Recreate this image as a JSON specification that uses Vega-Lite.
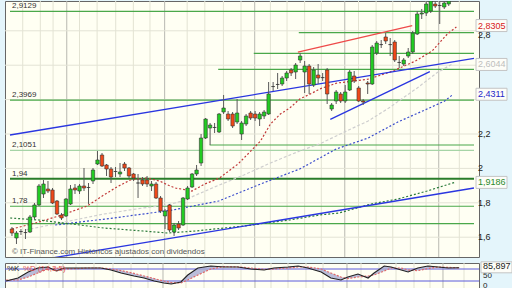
{
  "$schema": "https://vega.github.io/schema/vega-lite/v6.json",
  "background": "#e4f5fb",
  "padding": {"left": 3, "top": 0, "right": 1, "bottom": 0},
  "spacing": 2,
  "config": {
    "view": {"fill": "#fffff3", "stroke": "#666", "strokeWidth": 1},
    "font": "Liberation Sans"
  },
  "resolve": {"scale": {"color": "independent"}},
  "datasets": {
    "candles": [
      {"i":0,"o":1.6477,"h":1.6593,"l":1.607,"c":1.6244},
      {"i":1,"o":1.5954,"h":1.636,"l":1.5605,"c":1.6244},
      {"i":2,"o":1.633,"h":1.6477,"l":1.6128,"c":1.633},
      {"i":3,"o":1.627,"h":1.6477,"l":1.5895,"c":1.627},
      {"i":4,"o":1.6302,"h":1.7291,"l":1.6244,"c":1.7175},
      {"i":5,"o":1.7175,"h":1.7989,"l":1.7058,"c":1.7873},
      {"i":6,"o":1.7873,"h":1.9093,"l":1.7814,"c":1.8977},
      {"i":7,"o":1.8512,"h":1.9326,"l":1.828,"c":1.9093},
      {"i":8,"o":1.8803,"h":1.9268,"l":1.857,"c":1.8686},
      {"i":9,"o":1.8745,"h":1.8861,"l":1.7931,"c":1.7989},
      {"i":10,"o":1.8105,"h":1.8163,"l":1.7291,"c":1.7349},
      {"i":11,"o":1.7291,"h":1.7407,"l":1.7,"c":1.7117},
      {"i":12,"o":1.7233,"h":1.828,"l":1.7175,"c":1.8221},
      {"i":13,"o":1.7931,"h":1.9035,"l":1.7873,"c":1.8803},
      {"i":14,"o":1.8861,"h":1.9093,"l":1.8512,"c":1.8745},
      {"i":15,"o":1.8686,"h":1.9093,"l":1.8512,"c":1.8977},
      {"i":16,"o":1.8977,"h":2.0023,"l":1.8686,"c":1.8861},
      {"i":17,"o":1.889,"h":1.9151,"l":1.7931,"c":1.889},
      {"i":18,"o":1.9268,"h":2.0023,"l":1.9093,"c":1.9907},
      {"i":19,"o":2.0256,"h":2.1012,"l":2.0198,"c":2.0488},
      {"i":20,"o":2.0779,"h":2.0895,"l":2.0081,"c":2.014},
      {"i":21,"o":2.0198,"h":2.0256,"l":1.9558,"c":1.9965},
      {"i":22,"o":1.9965,"h":2.0081,"l":1.9151,"c":1.95},
      {"i":23,"o":1.982,"h":2.0081,"l":1.95,"c":1.982},
      {"i":24,"o":1.9675,"h":2.0314,"l":1.95,"c":1.9791},
      {"i":25,"o":2.0256,"h":2.0372,"l":1.9849,"c":2.0023},
      {"i":26,"o":2.0023,"h":2.0081,"l":1.9442,"c":1.9558},
      {"i":27,"o":1.9675,"h":1.9733,"l":1.9268,"c":1.9442},
      {"i":28,"o":1.9151,"h":1.9675,"l":1.828,"c":1.9151},
      {"i":29,"o":1.9326,"h":1.95,"l":1.8977,"c":1.9093},
      {"i":30,"o":1.9326,"h":1.9558,"l":1.8919,"c":1.9093},
      {"i":31,"o":1.8977,"h":1.9268,"l":1.8686,"c":1.9093},
      {"i":32,"o":1.9093,"h":1.9209,"l":1.8221,"c":1.828},
      {"i":33,"o":1.828,"h":1.8396,"l":1.7407,"c":1.7524},
      {"i":34,"o":1.7233,"h":1.764,"l":1.6477,"c":1.7524},
      {"i":35,"o":1.7873,"h":1.7931,"l":1.6302,"c":1.6418},
      {"i":36,"o":1.6302,"h":1.6826,"l":1.607,"c":1.6709},
      {"i":37,"o":1.6767,"h":1.6942,"l":1.6418,"c":1.6535},
      {"i":38,"o":1.6709,"h":1.8338,"l":1.6651,"c":1.828},
      {"i":39,"o":1.8221,"h":1.8977,"l":1.8163,"c":1.8861},
      {"i":40,"o":1.8919,"h":1.9733,"l":1.8861,"c":1.9675},
      {"i":41,"o":1.9675,"h":2.0198,"l":1.9558,"c":1.9907},
      {"i":42,"o":2.0314,"h":2.2,"l":2.014,"c":2.1767},
      {"i":43,"o":2.1767,"h":2.293,"l":2.1709,"c":2.2872},
      {"i":44,"o":2.2349,"h":2.264,"l":2.1361,"c":2.2523},
      {"i":45,"o":2.238,"h":2.264,"l":2.2058,"c":2.238},
      {"i":46,"o":2.2116,"h":2.3221,"l":2.2058,"c":2.3163},
      {"i":47,"o":2.3279,"h":2.4268,"l":2.3163,"c":2.3511},
      {"i":48,"o":2.3163,"h":2.3337,"l":2.2756,"c":2.2872},
      {"i":49,"o":2.3163,"h":2.3279,"l":2.2349,"c":2.2465},
      {"i":50,"o":2.2698,"h":2.4035,"l":2.2581,"c":2.3221},
      {"i":51,"o":2.2,"h":2.2756,"l":2.1651,"c":2.264},
      {"i":52,"o":2.2581,"h":2.3163,"l":2.2465,"c":2.3047},
      {"i":53,"o":2.3221,"h":2.3337,"l":2.2814,"c":2.293},
      {"i":54,"o":2.3163,"h":2.3337,"l":2.2756,"c":2.293},
      {"i":55,"o":2.2872,"h":2.3279,"l":2.2465,"c":2.3163},
      {"i":56,"o":2.3047,"h":2.3395,"l":2.2872,"c":2.3279},
      {"i":57,"o":2.3163,"h":2.5023,"l":2.3105,"c":2.4326},
      {"i":58,"o":2.476,"h":2.5023,"l":2.45,"c":2.476},
      {"i":59,"o":2.488,"h":2.5547,"l":2.4616,"c":2.488},
      {"i":60,"o":2.4907,"h":2.5372,"l":2.4791,"c":2.5256},
      {"i":61,"o":2.5256,"h":2.5663,"l":2.5081,"c":2.5547},
      {"i":62,"o":2.5721,"h":2.5837,"l":2.5372,"c":2.5547},
      {"i":63,"o":2.5605,"h":2.6128,"l":2.5198,"c":2.6012},
      {"i":64,"o":2.6302,"h":2.6709,"l":2.6128,"c":2.6535},
      {"i":65,"o":2.5605,"h":2.6244,"l":2.4384,"c":2.5953},
      {"i":66,"o":2.5953,"h":2.607,"l":2.4326,"c":2.4907},
      {"i":67,"o":2.4849,"h":2.5895,"l":2.4733,"c":2.5721},
      {"i":68,"o":2.543,"h":2.607,"l":2.4907,"c":2.5256},
      {"i":69,"o":2.528,"h":2.5547,"l":2.5081,"c":2.528},
      {"i":70,"o":2.5721,"h":2.5837,"l":2.3744,"c":2.4326},
      {"i":71,"o":2.3453,"h":2.3802,"l":2.3337,"c":2.3686},
      {"i":72,"o":2.3919,"h":2.4558,"l":2.3744,"c":2.4442},
      {"i":73,"o":2.4326,"h":2.4442,"l":2.3802,"c":2.3919},
      {"i":74,"o":2.3919,"h":2.4849,"l":2.3802,"c":2.4442},
      {"i":75,"o":2.4558,"h":2.5721,"l":2.45,"c":2.5605},
      {"i":76,"o":2.5372,"h":2.5663,"l":2.4965,"c":2.5081},
      {"i":77,"o":2.4675,"h":2.4791,"l":2.386,"c":2.3919},
      {"i":78,"o":2.3919,"h":2.4035,"l":2.3686,"c":2.386},
      {"i":79,"o":2.4965,"h":2.5081,"l":2.4326,"c":2.4907},
      {"i":80,"o":2.4907,"h":2.7175,"l":2.4849,"c":2.7058},
      {"i":81,"o":2.6709,"h":2.7407,"l":2.6593,"c":2.7291},
      {"i":82,"o":2.72,"h":2.7465,"l":2.7,"c":2.72},
      {"i":83,"o":2.764,"h":2.7872,"l":2.7233,"c":2.7407},
      {"i":84,"o":2.72,"h":2.7581,"l":2.6535,"c":2.72},
      {"i":85,"o":2.7349,"h":2.7465,"l":2.6186,"c":2.6302},
      {"i":86,"o":2.616,"h":2.6535,"l":2.5837,"c":2.616},
      {"i":87,"o":2.607,"h":2.6419,"l":2.5953,"c":2.6302},
      {"i":88,"o":2.6535,"h":2.7,"l":2.6419,"c":2.6767},
      {"i":89,"o":2.6767,"h":2.7988,"l":2.6651,"c":2.7872},
      {"i":90,"o":2.7814,"h":2.9151,"l":2.7756,"c":2.8977},
      {"i":91,"o":2.8977,"h":2.9268,"l":2.8686,"c":2.9035},
      {"i":92,"o":2.9035,"h":2.9733,"l":2.8861,"c":2.9558},
      {"i":93,"o":2.9151,"h":2.99,"l":2.9035,"c":2.9733},
      {"i":94,"o":2.9558,"h":2.9733,"l":2.9326,"c":2.9442},
      {"i":95,"o":2.947,"h":2.9733,"l":2.8395,"c":2.947},
      {"i":96,"o":2.9384,"h":2.9733,"l":2.9268,"c":2.9616},
      {"i":97,"o":2.9558,"h":2.985,"l":2.9442,"c":2.9733}
    ],
    "hlines": [
      {"p":2.9129,"i":-0.435,"i2":102.61,"g":"a","lab":"2,9129"},
      {"p":2.789,"i":63.7,"i2":102.61,"g":"a","lab":""},
      {"p":2.6692,"i":53.7,"i2":102.61,"g":"a","lab":""},
      {"p":2.5762,"i":45.8,"i2":102.61,"g":"a","lab":""},
      {"p":2.3969,"i":-0.435,"i2":102.61,"g":"a","lab":"2,3969"},
      {"p":2.1361,"i":43.9,"i2":102.61,"g":"a","lab":""},
      {"p":2.1051,"i":-0.435,"i2":102.61,"g":"b","lab":"2,1051"},
      {"p":1.94,"i":-0.435,"i2":102.61,"g":"c","lab":"1,94"},
      {"p":1.78,"i":-0.435,"i2":102.61,"g":"a","lab":"1,78"},
      {"p":1.6785,"i":-0.435,"i2":102.61,"g":"a","lab":""}
    ],
    "hgrid": [{"p":1.6},{"p":1.8},{"p":2.0},{"p":2.2},{"p":2.4},{"p":2.6},{"p":2.8}],
    "rlab": [{"p":1.6,"t":"1,6"},{"p":1.8,"t":"1,8"},{"p":2.0,"t":"2"},{"p":2.2,"t":"2,2"}],
    "tags": [
      {"p":2.8305,"t":"2,8305","s":"r"},
      {"p":2.6044,"t":"2,6044","s":"k"},
      {"p":2.4311,"t":"2,4311","s":"b"},
      {"p":1.9186,"t":"1,9186","s":"g"}
    ],
    "tlines": [
      {"i":63.5,"p":2.6767,"i2":88.9,"p2":2.8305,"s":"r"},
      {"i":-0.435,"p":2.1942,"i2":102.61,"p2":2.6401,"s":"b"},
      {"i":70.7,"p":2.2855,"i2":92.8,"p2":2.5622,"s":"b"},
      {"i":1,"p":1.445,"i2":102.61,"p2":1.8861,"s":"b"}
    ],
    "ma": [
      {"s":"r","i":0,"p":1.6477},{"s":"r","i":5.2,"p":1.6826},{"s":"r","i":11.1,"p":1.7291},{"s":"r","i":16.7,"p":1.7814},
      {"s":"r","i":20.4,"p":1.8453},{"s":"r","i":23.3,"p":1.8919},{"s":"r","i":26.3,"p":1.9326},{"s":"r","i":29.8,"p":1.9442},
      {"s":"r","i":32.8,"p":1.9268},{"s":"r","i":34.6,"p":1.9035},{"s":"r","i":36.3,"p":1.8861},{"s":"r","i":40.0,"p":1.8686},
      {"s":"r","i":42.8,"p":1.9093},{"s":"r","i":46.1,"p":1.9442},{"s":"r","i":50.2,"p":2.0256},{"s":"r","i":52.4,"p":2.0837},
      {"s":"r","i":55.2,"p":2.1593},{"s":"r","i":57.4,"p":2.2581},{"s":"r","i":59.6,"p":2.3163},{"s":"r","i":61.7,"p":2.3511},
      {"s":"r","i":63.9,"p":2.4035},{"s":"r","i":66.7,"p":2.4384},{"s":"r","i":68.3,"p":2.4616},{"s":"r","i":72.2,"p":2.4965},
      {"s":"r","i":75.9,"p":2.5081},{"s":"r","i":79.3,"p":2.5198},{"s":"r","i":84.6,"p":2.5663},{"s":"r","i":89.6,"p":2.6244},
      {"s":"r","i":93.3,"p":2.6826},{"s":"r","i":96.7,"p":2.7814},{"s":"r","i":98.7,"p":2.8221},
      {"s":"k","i":3.0,"p":1.6418},{"s":"k","i":11.7,"p":1.6884},{"s":"k","i":20.4,"p":1.7349},{"s":"k","i":29.1,"p":1.7698},
      {"s":"k","i":34.6,"p":1.7873},{"s":"k","i":37.8,"p":1.8105},{"s":"k","i":45.0,"p":1.8919},{"s":"k","i":51.5,"p":1.9616},
      {"s":"k","i":57.4,"p":2.0314},{"s":"k","i":63.9,"p":2.1012},{"s":"k","i":68.3,"p":2.1419},{"s":"k","i":74.3,"p":2.2175},
      {"s":"k","i":79.1,"p":2.2756},{"s":"k","i":83.7,"p":2.3511},{"s":"k","i":90.0,"p":2.4675},{"s":"k","i":94.3,"p":2.5547},
      {"s":"k","i":97.6,"p":2.6044},
      {"s":"b","i":9.6,"p":1.6709},{"s":"b","i":22.6,"p":1.7117},{"s":"b","i":35.7,"p":1.7581},{"s":"b","i":45.9,"p":1.8105},
      {"s":"b","i":55.2,"p":1.9093},{"s":"b","i":63.9,"p":1.9965},{"s":"b","i":72.0,"p":2.1128},{"s":"b","i":79.1,"p":2.1767},
      {"s":"b","i":85.7,"p":2.2698},{"s":"b","i":92.2,"p":2.3453},{"s":"b","i":96.1,"p":2.3919},{"s":"b","i":98.0,"p":2.4311},
      {"s":"g","i":-0.4,"p":1.7117},{"s":"g","i":5.9,"p":1.7},{"s":"g","i":13.3,"p":1.6767},{"s":"g","i":20.4,"p":1.6535},
      {"s":"g","i":29.1,"p":1.636},{"s":"g","i":34.6,"p":1.6244},{"s":"g","i":40.7,"p":1.636},{"s":"g","i":51.5,"p":1.6651},
      {"s":"g","i":61.7,"p":1.7},{"s":"g","i":68.3,"p":1.7291},{"s":"g","i":72.6,"p":1.7407},{"s":"g","i":79.8,"p":1.7931},
      {"s":"g","i":85.7,"p":1.8221},{"s":"g","i":92.2,"p":1.8686},{"s":"g","i":98.3,"p":1.9186}
    ],
    "vgrid": [
      {"i":2.39,"k":"n"},{"i":6.3,"k":"n"},{"i":9.13,"k":"n"},{"i":12.17,"k":"M"},{"i":15.0,"k":"n"},
      {"i":18.91,"k":"n"},{"i":23.04,"k":"n"},{"i":26.96,"k":"n"},{"i":30.65,"k":"n"},{"i":33.91,"k":"M"},
      {"i":38.91,"k":"n"},{"i":42.83,"k":"n"},{"i":46.96,"k":"n"},{"i":50.87,"k":"n"},{"i":53.91,"k":"M"},
      {"i":57.39,"k":"n"},{"i":61.09,"k":"n"},{"i":65.0,"k":"n"},{"i":68.7,"k":"n"},{"i":73.91,"k":"M"},
      {"i":76.96,"k":"n"},{"i":80.87,"k":"n"},{"i":84.57,"k":"n"},{"i":88.48,"k":"n"},{"i":91.96,"k":"n"},
      {"i":94.78,"k":"M"},{"i":99.35,"k":"n"}
    ],
    "osc": [
      {"i":-0.2,"k":20,"d":25},{"i":2.4,"k":35,"d":25},{"i":4.6,"k":65,"d":40},{"i":6.7,"k":85,"d":60},
      {"i":8.9,"k":90,"d":80},{"i":10.7,"k":70,"d":85},{"i":12.4,"k":85,"d":80},{"i":15.4,"k":85,"d":82},
      {"i":17.6,"k":85,"d":85},{"i":20.4,"k":85,"d":85},{"i":22.6,"k":75,"d":80},{"i":24.8,"k":60,"d":72},
      {"i":27.6,"k":45,"d":58},{"i":29.8,"k":35,"d":45},{"i":32.0,"k":20,"d":32},{"i":34.1,"k":10,"d":20},
      {"i":35.7,"k":5,"d":12},{"i":37.8,"k":15,"d":10},{"i":39.3,"k":50,"d":25},{"i":41.5,"k":85,"d":50},
      {"i":44.3,"k":95,"d":80},{"i":47.2,"k":90,"d":92},{"i":50.2,"k":90,"d":90},{"i":53.0,"k":80,"d":85},
      {"i":55.9,"k":75,"d":78},{"i":58.0,"k":85,"d":80},{"i":61.1,"k":90,"d":85},{"i":63.3,"k":95,"d":90},
      {"i":65.4,"k":85,"d":90},{"i":68.3,"k":65,"d":80},{"i":70.4,"k":35,"d":60},{"i":72.6,"k":25,"d":40},
      {"i":74.1,"k":40,"d":32},{"i":76.3,"k":55,"d":40},{"i":78.5,"k":35,"d":45},{"i":79.8,"k":60,"d":50},
      {"i":82.0,"k":95,"d":70},{"i":83.5,"k":90,"d":85},{"i":85.7,"k":75,"d":85},{"i":87.2,"k":65,"d":75},
      {"i":89.3,"k":85,"d":72},{"i":91.5,"k":95,"d":82},{"i":93.7,"k":90,"d":90},{"i":95.9,"k":85,"d":88},
      {"i":98.3,"k":85.897,"d":86}
    ]
  },
  "vconcat": [
    {
      "width": 474,
      "height": 256,
      "resolve": {"scale": {"color": "independent", "strokeDash": "independent"}},
      "layer": [
        {
          "data": {"name": "vgrid"},
          "mark": {"type": "rule", "strokeWidth": 1},
          "encoding": {
            "x": {"field": "i", "type": "quantitative", "scale": {"domain": [-0.435, 102.61], "nice": false, "zero": false}, "axis": null},
            "color": {"field": "k", "type": "nominal", "scale": {"domain": ["n", "M"], "range": ["#e3e3d3", "#b9b9b1"]}, "legend": null}
          }
        },
        {
          "data": {"name": "hgrid"},
          "mark": {"type": "rule", "strokeWidth": 1, "color": "#e3e3d5"},
          "encoding": {
            "y": {"field": "p", "type": "quantitative", "scale": {"domain": [1.4849, 2.9733], "nice": false, "zero": false}, "axis": null}
          }
        },
        {
          "data": {"name": "hlines"},
          "mark": {"type": "rule", "clip": true},
          "encoding": {
            "x": {"field": "i", "type": "quantitative", "scale": {"domain": [-0.435, 102.61], "nice": false, "zero": false}, "axis": null},
            "x2": {"field": "i2"},
            "y": {"field": "p", "type": "quantitative", "scale": {"domain": [1.4849, 2.9733], "nice": false, "zero": false}, "axis": null},
            "color": {"field": "g", "type": "nominal", "scale": {"domain": ["a", "b", "c"], "range": ["#4aa84a", "#a6d4a6", "#2a7d2a"]}, "legend": null},
            "strokeWidth": {"condition": {"test": "datum.g == 'c'", "value": 2}, "value": 1.2}
          }
        },
        {
          "data": {"name": "ma"},
          "mark": {"type": "line", "strokeWidth": 1.2, "clip": true},
          "encoding": {
            "x": {"field": "i", "type": "quantitative", "scale": {"domain": [-0.435, 102.61], "nice": false, "zero": false}, "axis": null},
            "y": {"field": "p", "type": "quantitative", "scale": {"domain": [1.4849, 2.9733], "nice": false, "zero": false}, "axis": null},
            "color": {"field": "s", "type": "nominal", "scale": {"domain": ["r", "k", "b", "g"], "range": ["#c23a3a", "#cfcfcf", "#3a4ccc", "#2a7a3a"]}, "legend": null},
            "strokeDash": {"field": "s", "type": "nominal", "scale": {"domain": ["r", "k", "b", "g"], "range": [[2, 2], [3, 2], [2, 2], [2, 2]]}, "legend": null},
            "order": {"field": "i", "type": "quantitative"}
          }
        },
        {
          "data": {"name": "tlines"},
          "mark": {"type": "rule", "strokeWidth": 1.3, "clip": true},
          "encoding": {
            "x": {"field": "i", "type": "quantitative", "scale": {"domain": [-0.435, 102.61], "nice": false, "zero": false}, "axis": null},
            "x2": {"field": "i2"},
            "y": {"field": "p", "type": "quantitative", "scale": {"domain": [1.4849, 2.9733], "nice": false, "zero": false}, "axis": null},
            "y2": {"field": "p2"},
            "color": {"field": "s", "type": "nominal", "scale": {"domain": ["r", "b"], "range": ["#ee4a4a", "#2a36e0"]}, "legend": null}
          }
        },
        {
          "data": {"name": "candles"},
          "mark": {"type": "rule", "color": "#5a5a5a", "strokeWidth": 1, "clip": true},
          "encoding": {
            "x": {"field": "i", "type": "quantitative", "scale": {"domain": [-0.435, 102.61], "nice": false, "zero": false}, "axis": null},
            "y": {"field": "l", "type": "quantitative", "scale": {"domain": [1.4849, 2.9733], "nice": false, "zero": false}, "axis": null},
            "y2": {"field": "h"}
          }
        },
        {
          "data": {"name": "candles"},
          "mark": {"type": "bar", "width": 3.4, "stroke": "#333333", "strokeWidth": 0.6, "clip": true},
          "encoding": {
            "x": {"field": "i", "type": "quantitative", "scale": {"domain": [-0.435, 102.61], "nice": false, "zero": false}, "axis": null},
            "y": {"field": "o", "type": "quantitative", "scale": {"domain": [1.4849, 2.9733], "nice": false, "zero": false}, "axis": null},
            "y2": {"field": "c"},
            "color": {"condition": [{"test": "datum.c > datum.o", "value": "#22cc22"}, {"test": "datum.c < datum.o", "value": "#f04818"}], "value": "#888888"}
          }
        },
        {
          "data": {"name": "hlines"},
          "transform": [{"filter": "datum.lab != ''"}],
          "mark": {"type": "text", "align": "left", "baseline": "bottom", "dx": 2, "dy": -1, "fontSize": 8, "color": "#333333"},
          "encoding": {
            "x": {"field": "i", "type": "quantitative", "scale": {"domain": [-0.435, 102.61], "nice": false, "zero": false}, "axis": null},
            "y": {"field": "p", "type": "quantitative", "scale": {"domain": [1.4849, 2.9733], "nice": false, "zero": false}, "axis": null},
            "text": {"field": "lab"}
          }
        },
        {
          "data": {"values": [{}]},
          "mark": {"type": "text", "align": "left", "baseline": "bottom", "dx": 2, "dy": -1, "fontSize": 8, "color": "#555555", "text": "© IT-Finance.com  Históricos ajustados con dividendos"},
          "encoding": {
            "x": {"datum": -0.435, "type": "quantitative", "scale": {"domain": [-0.435, 102.61], "nice": false, "zero": false}, "axis": null},
            "y": {"datum": 1.4849, "type": "quantitative", "scale": {"domain": [1.4849, 2.9733], "nice": false, "zero": false}, "axis": null}
          }
        },
        {
          "data": {"name": "rlab"},
          "mark": {"type": "text", "align": "left", "baseline": "middle", "dx": 4, "fontSize": 9, "color": "#222222"},
          "encoding": {
            "x": {"datum": 102.61, "type": "quantitative", "scale": {"domain": [-0.435, 102.61], "nice": false, "zero": false}, "axis": null},
            "y": {"field": "p", "type": "quantitative", "scale": {"domain": [1.4849, 2.9733], "nice": false, "zero": false}, "axis": null},
            "text": {"field": "t"}
          }
        },
        {
          "data": {"values": [{}]},
          "mark": {"type": "text", "align": "left", "baseline": "middle", "dx": 4, "dy": 4, "fontSize": 9, "color": "#222222", "text": "2,8"},
          "encoding": {
            "x": {"datum": 102.61, "type": "quantitative", "scale": {"domain": [-0.435, 102.61], "nice": false, "zero": false}, "axis": null},
            "y": {"datum": 2.8, "type": "quantitative", "scale": {"domain": [1.4849, 2.9733], "nice": false, "zero": false}, "axis": null}
          }
        },
        {
          "data": {"name": "tags"},
          "mark": {"type": "rect", "fill": "#fdfdf8", "stroke": "#c4c4c4", "strokeWidth": 1, "xOffset": 2, "x2Offset": 33, "yOffset": -6, "y2Offset": 6},
          "encoding": {
            "x": {"datum": 102.61, "type": "quantitative", "scale": {"domain": [-0.435, 102.61], "nice": false, "zero": false}, "axis": null},
            "x2": {"datum": 102.61},
            "y": {"field": "p", "type": "quantitative", "scale": {"domain": [1.4849, 2.9733], "nice": false, "zero": false}, "axis": null},
            "y2": {"field": "p"}
          }
        },
        {
          "data": {"name": "tags"},
          "mark": {"type": "text", "align": "left", "baseline": "middle", "dx": 4, "fontSize": 9},
          "encoding": {
            "x": {"datum": 102.61, "type": "quantitative", "scale": {"domain": [-0.435, 102.61], "nice": false, "zero": false}, "axis": null},
            "y": {"field": "p", "type": "quantitative", "scale": {"domain": [1.4849, 2.9733], "nice": false, "zero": false}, "axis": null},
            "text": {"field": "t"},
            "color": {"field": "s", "type": "nominal", "scale": {"domain": ["r", "k", "b", "g"], "range": ["#d82020", "#bdbdbd", "#2525c8", "#2a8a2a"]}, "legend": null}
          }
        }
      ]
    },
    {
      "width": 474,
      "height": 25,
      "layer": [
        {
          "data": {"name": "vgrid"},
          "mark": {"type": "rule", "strokeWidth": 1},
          "encoding": {
            "x": {"field": "i", "type": "quantitative", "scale": {"domain": [-0.435, 102.61], "nice": false, "zero": false}, "axis": null},
            "color": {"field": "k", "type": "nominal", "scale": {"domain": ["n", "M"], "range": ["#e3e3d3", "#b9b9b1"]}, "legend": null}
          }
        },
        {
          "data": {"values": [{"v": 20}, {"v": 80}]},
          "mark": {"type": "rule", "color": "#5a5adc", "strokeWidth": 1},
          "encoding": {
            "y": {"field": "v", "type": "quantitative", "scale": {"domain": [-15, 110], "nice": false, "zero": false}, "axis": null}
          }
        },
        {
          "data": {"name": "osc"},
          "mark": {"type": "area", "color": "#a9add2", "opacity": 0.8},
          "encoding": {
            "x": {"field": "i", "type": "quantitative", "scale": {"domain": [-0.435, 102.61], "nice": false, "zero": false}, "axis": null},
            "y": {"field": "k", "type": "quantitative", "scale": {"domain": [-15, 110], "nice": false, "zero": false}, "axis": null},
            "y2": {"field": "d"}
          }
        },
        {
          "data": {"name": "osc"},
          "mark": {"type": "line", "color": "#e06a6a", "strokeWidth": 1.2, "strokeDash": [2, 1.5]},
          "encoding": {
            "x": {"field": "i", "type": "quantitative", "scale": {"domain": [-0.435, 102.61], "nice": false, "zero": false}, "axis": null},
            "y": {"field": "d", "type": "quantitative", "scale": {"domain": [-15, 110], "nice": false, "zero": false}, "axis": null}
          }
        },
        {
          "data": {"name": "osc"},
          "mark": {"type": "line", "color": "#222222", "strokeWidth": 1.1},
          "encoding": {
            "x": {"field": "i", "type": "quantitative", "scale": {"domain": [-0.435, 102.61], "nice": false, "zero": false}, "axis": null},
            "y": {"field": "k", "type": "quantitative", "scale": {"domain": [-15, 110], "nice": false, "zero": false}, "axis": null}
          }
        },
        {
          "data": {"values": [{}]},
          "mark": {"type": "text", "align": "left", "baseline": "top", "dx": 2, "dy": 2, "fontSize": 8, "color": "#222222", "text": "%K"},
          "encoding": {
            "x": {"datum": -0.435, "type": "quantitative", "scale": {"domain": [-0.435, 102.61], "nice": false, "zero": false}, "axis": null},
            "y": {"datum": 110, "type": "quantitative", "scale": {"domain": [-15, 110], "nice": false, "zero": false}, "axis": null}
          }
        },
        {
          "data": {"values": [{}]},
          "mark": {"type": "text", "align": "left", "baseline": "top", "dx": 18, "dy": 2, "fontSize": 8, "color": "#e05050", "text": "%D (14,3,5)"},
          "encoding": {
            "x": {"datum": -0.435, "type": "quantitative", "scale": {"domain": [-0.435, 102.61], "nice": false, "zero": false}, "axis": null},
            "y": {"datum": 110, "type": "quantitative", "scale": {"domain": [-15, 110], "nice": false, "zero": false}, "axis": null}
          }
        },
        {
          "data": {"values": [{"v": 0, "t": "0"}, {"v": 50, "t": "50"}]},
          "mark": {"type": "text", "align": "left", "baseline": "middle", "dx": 4, "dy": 0.5, "fontSize": 8, "color": "#222222"},
          "encoding": {
            "x": {"datum": 102.61, "type": "quantitative", "scale": {"domain": [-0.435, 102.61], "nice": false, "zero": false}, "axis": null},
            "y": {"field": "v", "type": "quantitative", "scale": {"domain": [-15, 110], "nice": false, "zero": false}, "axis": null},
            "text": {"field": "t"}
          }
        },
        {
          "data": {"values": [{"v": 85.897, "t": "85,897"}]},
          "mark": {"type": "rect", "fill": "#fdfdf8", "stroke": "#c4c4c4", "strokeWidth": 1, "xOffset": 2, "x2Offset": 33, "yOffset": -6, "y2Offset": 5},
          "encoding": {
            "x": {"datum": 102.61, "type": "quantitative", "scale": {"domain": [-0.435, 102.61], "nice": false, "zero": false}, "axis": null},
            "x2": {"datum": 102.61},
            "y": {"field": "v", "type": "quantitative", "scale": {"domain": [-15, 110], "nice": false, "zero": false}, "axis": null},
            "y2": {"field": "v"}
          }
        },
        {
          "data": {"values": [{"v": 85.897, "t": "85,897"}]},
          "mark": {"type": "text", "align": "left", "baseline": "middle", "dx": 4, "dy": -1.5, "fontSize": 9, "color": "#222222"},
          "encoding": {
            "x": {"datum": 102.61, "type": "quantitative", "scale": {"domain": [-0.435, 102.61], "nice": false, "zero": false}, "axis": null},
            "y": {"field": "v", "type": "quantitative", "scale": {"domain": [-15, 110], "nice": false, "zero": false}, "axis": null},
            "text": {"field": "t"}
          }
        }
      ]
    },
    {
      "width": 474,
      "height": 30,
      "layer": [
        {
          "data": {"name": "vgrid"},
          "mark": {"type": "rule", "strokeWidth": 1},
          "encoding": {
            "x": {"field": "i", "type": "quantitative", "scale": {"domain": [-0.435, 102.61], "nice": false, "zero": false}, "axis": null},
            "color": {"field": "k", "type": "nominal", "scale": {"domain": ["n", "M"], "range": ["#e3e3d3", "#b9b9b1"]}, "legend": null}
          }
        },
        {
          "data": {"values": [{}]},
          "mark": {"type": "text", "align": "left", "baseline": "top", "dx": 2, "dy": 0, "fontSize": 7, "color": "#222222", "text": "Mom (10)"},
          "encoding": {
            "x": {"datum": -0.435, "type": "quantitative", "scale": {"domain": [-0.435, 102.61], "nice": false, "zero": false}, "axis": null},
            "y": {"datum": 1, "type": "quantitative", "scale": {"domain": [0, 1], "nice": false, "zero": false}, "axis": null}
          }
        }
      ]
    }
  ]
}
